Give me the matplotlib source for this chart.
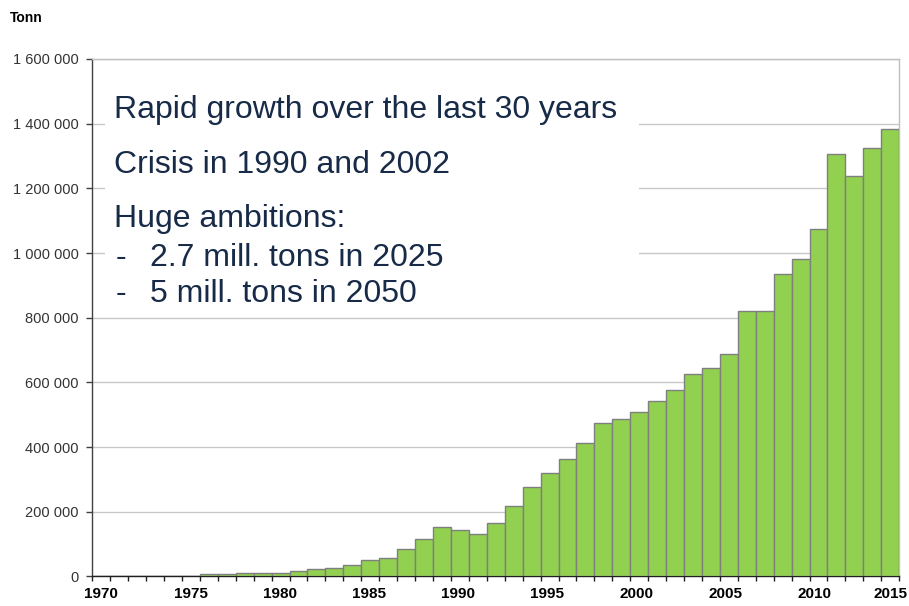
import numpy as np
import matplotlib
matplotlib.use("Agg")
import matplotlib.pyplot as plt
from matplotlib.patches import Rectangle

plt.rcParams["font.family"] = ["Liberation Sans", "DejaVu Sans"]

# Annual production (tonnes), one bar per year
years = list(range(1971, 2016))
tonnes = [100, 500, 1000, 1200, 1500, 2500,
          6000, 6000, 9000, 9000, 12000, 16000, 23000, 26000, 35000,
          50000, 56000, 86000, 116000, 153000, 143000, 131000, 165000,
          218000, 275000, 321000, 364000, 412000, 475000, 487000, 508000,
          543000, 577000, 627000, 643000, 689000, 820000, 820000, 936000,
          980000, 1073000, 1306000, 1239000, 1326000, 1385000]

label_years = [1970, 1975, 1980, 1985, 1990, 1995, 2000, 2005, 2010, 2015]
y_ticks = [0, 200000, 400000, 600000, 800000, 1000000, 1200000, 1400000, 1600000]

text_lines = ["Rapid growth over the last 30 years",
              "Crisis in 1990 and 2002",
              "Huge ambitions:"]
bullet_lines = ["2.7 mill. tons in 2025",
                "5 mill. tons in 2050"]

W, H = 909, 606
fig = plt.figure(figsize=(W / 100, H / 100), dpi=100)
ax = fig.add_axes([92.3 / W, 1 - 576.4 / H, (899.2 - 92.3) / W, (576.4 - 59.0) / H])

n = len(years)
x = np.arange(n)
ax.bar(x, tonnes, width=1.0, color="#92D050", edgecolor="#7f7f7f",
       linewidth=1.0, zorder=3)

ax.set_xlim(-0.5, n - 0.5)
ax.set_ylim(0, 1600000)

# y axis
ax.set_yticks(y_ticks)
ax.set_yticklabels([f"{v:,.0f}".replace(",", " ") for v in y_ticks])
ax.tick_params(axis="y", direction="out", length=4, width=1, color="#404040",
               labelsize=10.5, labelcolor="#333333", pad=6)
ax.grid(axis="y", color="#c8c8c8", linewidth=1.0, zorder=0)
ax.set_axisbelow(True)

# x axis: tick marks at bar edges, year labels under the bars
ax.set_xticks(np.arange(-0.5, n, 1.0))
ax.set_xticklabels([])
ax.tick_params(axis="x", which="major", direction="out", length=3.5, width=1,
               color="#202020")
label_pos = [min((yr - 1970) * 0.995, n - 1) for yr in label_years]
ax.set_xticks(label_pos, [str(yr) for yr in label_years], minor=True)
ax.tick_params(axis="x", which="minor", length=0, pad=7.5, labelsize=11)
for lbl in ax.get_xticklabels(minor=True):
    lbl.set_fontweight("bold")
    lbl.set_color("black")

for side in ("top", "right"):
    ax.spines[side].set_color("#bfbfbf")
    ax.spines[side].set_linewidth(1.0)
ax.spines["left"].set_color("#404040")
ax.spines["bottom"].set_color("#202020")
ax.spines["left"].set_linewidth(1.0)
ax.spines["bottom"].set_linewidth(1.0)

fig.text(10 / W, 1 - 18 / H, "Tonn", fontsize=10, fontweight="bold",
         va="center", ha="left", color="black")

# white text panel over the upper-left of the plot
fig.patches.append(Rectangle((105 / W, 1 - 312 / H), (639 - 105) / W, (312 - 78) / H,
                             transform=fig.transFigure, facecolor="white",
                             edgecolor="none", zorder=5))

txt_color = "#172a47"
fs = 23
for line, base in zip(text_lines, [118.3, 172.7, 226.7]):
    fig.text(114 / W, 1 - base / H, line, fontsize=fs, color=txt_color,
             va="baseline", ha="left", zorder=6)
for line, base in zip(bullet_lines, [265.7, 301.7]):
    fig.text(115.8 / W, 1 - base / H, "-", fontsize=fs, color=txt_color,
             va="baseline", ha="left", zorder=6)
    fig.text(150.5 / W, 1 - base / H, line, fontsize=fs, color=txt_color,
             va="baseline", ha="left", zorder=6)

fig.savefig("out.png", dpi=100)
